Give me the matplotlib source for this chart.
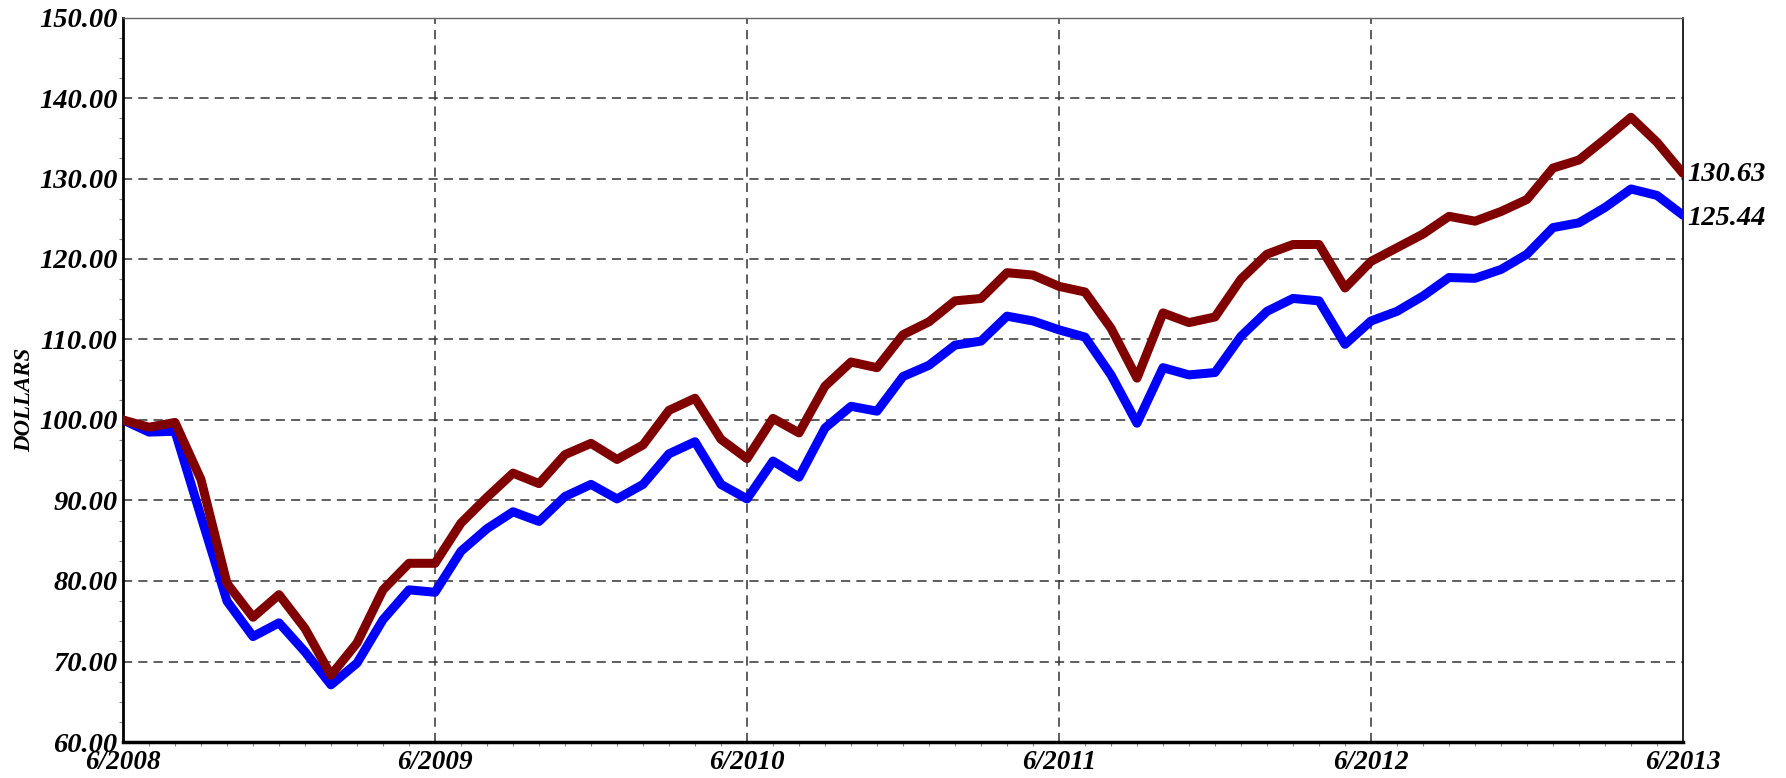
import matplotlib
matplotlib.use("Agg")
import matplotlib.pyplot as plt
from matplotlib.ticker import MultipleLocator, FixedLocator

# ---- data ----
months = [f"{(5 + i) % 12 + 1}/{2008 + (5 + i) // 12}" for i in range(61)]
series_red = [100.0, 99.1, 99.7, 92.6, 79.7, 75.5, 78.3, 74.1, 68.3, 72.3,
              78.9, 82.2, 82.2, 87.2, 90.4, 93.4, 92.1, 95.7, 97.1, 95.1,
              96.9, 101.2, 102.7, 97.6, 95.2, 100.2, 98.4, 104.2, 107.2, 106.5,
              110.6, 112.2, 114.8, 115.1, 118.3, 118.0, 116.6, 115.9, 111.4, 105.2,
              113.3, 112.1, 112.8, 117.5, 120.6, 121.8, 121.8, 116.4, 119.7, 121.4,
              123.1, 125.3, 124.7, 125.9, 127.4, 131.3, 132.3, 134.9, 137.6, 134.5,
              130.63]
series_blue = [100.0, 98.5, 98.6, 88.0, 77.5, 73.1, 74.8, 71.2, 67.1, 69.8,
               75.2, 78.9, 78.6, 83.7, 86.5, 88.6, 87.4, 90.5, 92.0, 90.2,
               92.0, 95.8, 97.3, 92.0, 90.2, 94.9, 92.9, 99.0, 101.7, 101.1,
               105.4, 106.8, 109.3, 109.8, 112.9, 112.3, 111.2, 110.3, 105.6, 99.6,
               106.5, 105.6, 105.9, 110.4, 113.5, 115.1, 114.8, 109.4, 112.3, 113.5,
               115.4, 117.7, 117.6, 118.7, 120.6, 123.9, 124.5, 126.4, 128.7, 127.9,
               125.44]
y_ticks = [60, 70, 80, 90, 100, 110, 120, 130, 140, 150]
x_tick_labels = ["6/2008", "6/2009", "6/2010", "6/2011", "6/2012", "6/2013"]
y_label = "DOLLARS"

RED = "#800000"
BLUE = "#0000ff"
FONT = "Liberation Serif"

fig = plt.figure(figsize=(17.86, 7.78), dpi=100)
ax = fig.add_axes([123 / 1786, 1 - 742 / 778, (1683 - 123) / 1786, (742 - 17.5) / 778])

x = list(range(len(months)))
ax.plot(x, series_blue, color=BLUE, lw=6.5, solid_joinstyle="round", solid_capstyle="round", zorder=3)
ax.plot(x, series_red, color=RED, lw=6.5, solid_joinstyle="round", solid_capstyle="round", zorder=4)

ax.set_xlim(0, len(months) - 1)
ax.set_ylim(60, 150)

major_x = [months.index(lbl) for lbl in x_tick_labels]
ax.xaxis.set_major_locator(FixedLocator(major_x))
ax.set_xticklabels(x_tick_labels)
ax.xaxis.set_minor_locator(MultipleLocator(1))
ax.yaxis.set_major_locator(FixedLocator(y_ticks))
ax.set_yticklabels([f"{v:.2f}" for v in y_ticks])
ax.yaxis.set_minor_locator(MultipleLocator(2.5))

for lbl in ax.get_xticklabels():
    lbl.set_fontfamily(FONT); lbl.set_fontweight("bold"); lbl.set_fontstyle("italic"); lbl.set_fontsize(19.5)
for lbl in ax.get_yticklabels():
    lbl.set_fontfamily(FONT); lbl.set_fontweight("bold"); lbl.set_fontstyle("italic"); lbl.set_fontsize(20.5)

ax.tick_params(axis="y", which="major", length=0, pad=4)
ax.tick_params(axis="x", which="major", length=0, pad=6)
ax.tick_params(axis="both", which="minor", length=3, width=0.8, color="#888888", direction="out")

# grid
for v in y_ticks[1:-1]:
    ax.axhline(v, color="#333333", lw=1.1, ls=(0, (6, 4)), zorder=1)
for xv in major_x[1:-1]:
    ax.axvline(xv, color="#333333", lw=1.1, ls=(0, (6, 4)), zorder=1)

ax.spines["left"].set_linewidth(2)
ax.spines["bottom"].set_linewidth(2.5)
ax.spines["top"].set_linewidth(1)
ax.spines["top"].set_color("#666666")
ax.spines["right"].set_linewidth(1.2)

ax.set_ylabel(y_label, fontfamily=FONT, fontweight="bold", fontstyle="italic", fontsize=16.5)
ax.yaxis.set_label_coords(-0.056, 0.472)

# end labels
ax.annotate(f"{series_red[-1]:.2f}", xy=(x[-1], series_red[-1]), xytext=(4, -1), textcoords="offset pixels",
            ha="left", va="center", fontfamily=FONT, fontweight="bold", fontstyle="italic", fontsize=20.5,
            annotation_clip=False)
ax.annotate(f"{series_blue[-1]:.2f}", xy=(x[-1], series_blue[-1]), xytext=(4, -3), textcoords="offset pixels",
            ha="left", va="center", fontfamily=FONT, fontweight="bold", fontstyle="italic", fontsize=20.5,
            annotation_clip=False)

fig.savefig("out.png", dpi=100)
